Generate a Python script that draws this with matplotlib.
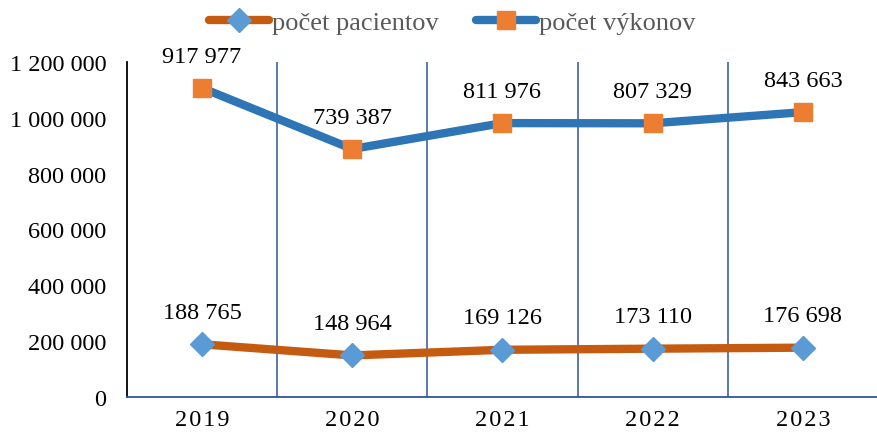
import matplotlib
matplotlib.use("Agg")
import matplotlib.pyplot as plt
from matplotlib.ticker import FuncFormatter, MultipleLocator
import numpy as np

plt.rcParams['font.family'] = ['Liberation Serif', 'DejaVu Serif']

years = ["2019", "2020", "2021", "2022", "2023"]
patients = [188765, 148964, 169126, 173110, 176698]
procedures = [917977, 739387, 811976, 807329, 843663]
series_names = ["počet pacientov", "počet výkonov"]

x = np.arange(len(years))
stack_bottom = np.array(patients)
stack_top = stack_bottom + np.array(procedures)

fig = plt.figure(figsize=(8.78, 4.35), dpi=100)
ax = fig.add_axes([127/878, 1-398/435, 1-127/878, (398-63)/435])

grid_col = "#2F5597"
for b in np.arange(0.5, len(years), 1.0):
    ax.axvline(b, color=grid_col, lw=1.1, zorder=1)

ax.plot(x, stack_bottom, color="#C55A11", lw=6, marker="D", markersize=12,
        markerfacecolor="#5B9BD5", markeredgecolor="#5B9BD5",
        solid_capstyle="round", label=series_names[0], zorder=3)
ax.plot(x, stack_top, color="#2E75B6", lw=6, marker="s", markersize=12.5,
        markerfacecolor="#ED7D31", markeredgecolor="#ED7D31",
        solid_capstyle="round", label=series_names[1], zorder=3)

fmt = lambda v: f"{v:,.0f}".replace(",", " ")
for xi, yv, lab in zip(x, stack_bottom, patients):
    ax.annotate(fmt(lab), (xi, yv), xytext=(0, 23), textcoords="offset points",
                ha="center", va="center", fontsize=17.5, color="black")
for xi, yv, lab in zip(x, stack_top, procedures):
    ax.annotate(fmt(lab), (xi, yv), xytext=(0, 23), textcoords="offset points",
                ha="center", va="center", fontsize=17.5, color="black")

ax.set_xlim(-0.5, len(years) - 0.5)
ax.set_ylim(0, 1200000)
ax.yaxis.set_major_locator(MultipleLocator(200000))
ax.yaxis.set_major_formatter(FuncFormatter(lambda v, p: fmt(v)))
ax.set_xticks(x)
ax.set_xticklabels(["\u200a".join(y) for y in years])
ax.tick_params(axis="y", length=0, pad=15, labelsize=17.5)
ax.tick_params(axis="x", length=0, pad=9, labelsize=17.5)

for s in ["top", "right"]:
    ax.spines[s].set_visible(False)
ax.spines["left"].set_color("black")
ax.spines["left"].set_linewidth(1.3)
ax.spines["bottom"].set_color(grid_col)
ax.spines["bottom"].set_linewidth(1.3)

leg = fig.legend(loc="center", bbox_to_anchor=(452/878, 1-23/435), ncol=2,
                 frameon=False, fontsize=19, handlelength=2.3,
                 handletextpad=0.1, columnspacing=1.4, labelcolor="#595959")

fig.savefig("out.png", dpi=100)
